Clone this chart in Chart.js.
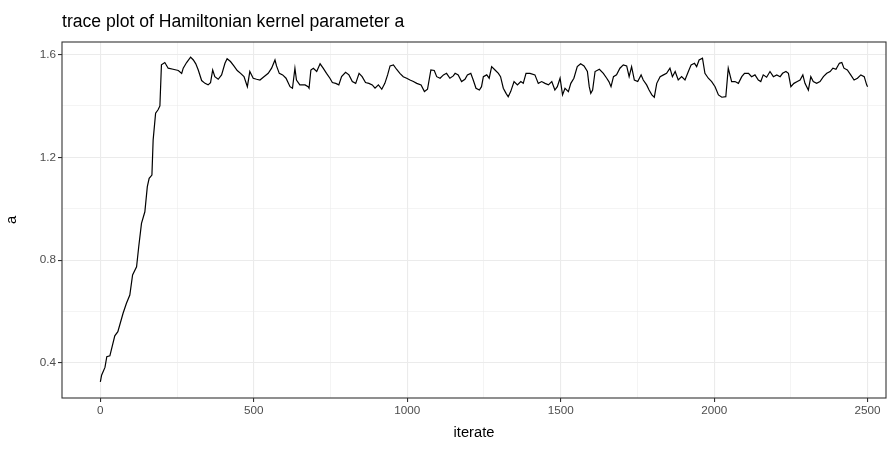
<!DOCTYPE html>
<html>
<head>
<meta charset="utf-8">
<script src="https://cdn.jsdelivr.net/npm/chart.js@4.4.1/dist/chart.umd.min.js"></script>
<style>
  html, body { margin: 0; padding: 0; background: #fff; }
  canvas { display: block; }
</style>
</head>
<body>
<canvas id="traceChart" width="896" height="450"></canvas>
<script>
const titleText = 'trace plot of Hamiltonian kernel parameter a'

// values
const iterate = [
	0, 4, 15, 21, 31, 47, 57, 74, 85, 96, 105, 118, 125, 134, 145, 153, 159, 168, 172, 180,
	188, 194, 199, 210, 221, 237, 254, 265, 270, 281, 294, 303, 311, 319, 330, 341, 351, 359, 366, 373,
	384, 395, 406, 413, 424, 435, 446, 457, 468, 479, 487, 498, 509, 520, 531, 547, 558, 569, 574, 583,
	594, 605, 618, 626, 634, 639, 650, 667, 677, 680, 686, 694, 705, 716, 726, 737, 748, 756, 767, 777,
	786, 799, 810, 821, 832, 843, 853, 864, 875, 886, 895, 906, 917, 927, 936, 944, 955, 965, 976, 987,
	998, 1009, 1020, 1031, 1045, 1056, 1066, 1077, 1088, 1096, 1107, 1118, 1128, 1139, 1150, 1156, 1166, 1177, 1188, 1196,
	1207, 1215, 1224, 1235, 1242, 1248, 1259, 1267, 1275, 1286, 1297, 1304, 1313, 1322, 1329, 1337, 1348, 1359, 1370, 1378,
	1387, 1400, 1416, 1427, 1438, 1449, 1460, 1471, 1481, 1489, 1498, 1506, 1514, 1525, 1533, 1543, 1554, 1565, 1576, 1587,
	1593, 1598, 1604, 1612, 1626, 1639, 1650, 1657, 1664, 1672, 1682, 1693, 1704, 1715, 1723, 1731, 1740, 1751, 1762, 1769,
	1780, 1788, 1797, 1805, 1813, 1824, 1835, 1845, 1856, 1864, 1873, 1883, 1894, 1905, 1916, 1925, 1936, 1943, 1951, 1962,
	1970, 1981, 1992, 2003, 2014, 2025, 2038, 2046, 2057, 2068, 2079, 2090, 2099, 2112, 2122, 2133, 2144, 2152, 2160, 2171,
	2182, 2193, 2204, 2215, 2223, 2234, 2242, 2250, 2260, 2271, 2280, 2289, 2296, 2307, 2315, 2323, 2334, 2345, 2356, 2367,
	2378, 2387, 2397, 2408, 2416, 2423, 2434, 2445, 2456, 2467, 2478, 2489, 2497, 2500
]

const aValues = [
	0.326, 0.352, 0.382, 0.424, 0.427, 0.505, 0.521, 0.593, 0.632, 0.664, 0.742, 0.774, 0.852, 0.943, 0.988, 1.086, 1.118, 1.131, 1.268, 1.372,
	1.385, 1.400, 1.560, 1.569, 1.547, 1.543, 1.538, 1.527, 1.547, 1.569, 1.590, 1.579, 1.564, 1.540, 1.499, 1.488, 1.482, 1.491, 1.540, 1.514,
	1.504, 1.521, 1.566, 1.584, 1.573, 1.556, 1.538, 1.527, 1.514, 1.475, 1.534, 1.508, 1.504, 1.501, 1.512, 1.527, 1.547, 1.579, 1.556, 1.527,
	1.521, 1.508, 1.475, 1.469, 1.547, 1.501, 1.482, 1.482, 1.475, 1.469, 1.540, 1.547, 1.534, 1.564, 1.547, 1.527, 1.508, 1.491, 1.488, 1.482,
	1.514, 1.531, 1.521, 1.495, 1.488, 1.527, 1.514, 1.491, 1.488, 1.482, 1.469, 1.482, 1.465, 1.488, 1.521, 1.556, 1.560, 1.543, 1.527, 1.514,
	1.508, 1.501, 1.495, 1.488, 1.482, 1.456, 1.465, 1.540, 1.538, 1.514, 1.508, 1.521, 1.527, 1.508, 1.517, 1.527, 1.521, 1.495, 1.504, 1.521,
	1.527, 1.501, 1.469, 1.462, 1.475, 1.514, 1.521, 1.508, 1.553, 1.540, 1.527, 1.514, 1.469, 1.449, 1.436, 1.456, 1.495, 1.482, 1.495, 1.488,
	1.527, 1.527, 1.521, 1.488, 1.495, 1.488, 1.482, 1.495, 1.462, 1.475, 1.508, 1.443, 1.469, 1.456, 1.488, 1.508, 1.553, 1.564, 1.556, 1.534,
	1.475, 1.449, 1.462, 1.534, 1.543, 1.527, 1.508, 1.495, 1.475, 1.514, 1.521, 1.547, 1.560, 1.556, 1.514, 1.553, 1.501, 1.495, 1.521, 1.501,
	1.482, 1.462, 1.443, 1.434, 1.488, 1.514, 1.521, 1.527, 1.547, 1.514, 1.534, 1.501, 1.514, 1.501, 1.534, 1.560, 1.566, 1.553, 1.579, 1.586,
	1.527, 1.508, 1.495, 1.475, 1.443, 1.434, 1.436, 1.547, 1.495, 1.495, 1.488, 1.514, 1.527, 1.527, 1.514, 1.521, 1.501, 1.495, 1.521, 1.512,
	1.534, 1.514, 1.521, 1.514, 1.527, 1.534, 1.527, 1.475, 1.488, 1.495, 1.501, 1.521, 1.488, 1.462, 1.514, 1.495, 1.488, 1.495, 1.514, 1.527,
	1.534, 1.547, 1.543, 1.566, 1.569, 1.547, 1.540, 1.521, 1.501, 1.508, 1.521, 1.514, 1.482, 1.475
]

const xMajorTicks = [0, 500, 1000, 1500, 2000, 2500]
const xMinorTicks = [250, 750, 1250, 1750, 2250]
const yMajorTicks = [0.4, 0.8, 1.2, 1.6]
const yMinorTicks = [0.6, 1.0, 1.4]

const gridColour = '#EBEBEB'
const inkColour = '#333333'

function isMajor(list, value) {
	return list.some(v => Math.abs(v - value) < 1e-9)
}

function setTicks(values) {
	return scale => {
		scale.ticks = values.slice().sort((a, b) => a - b).map(v => ({ value: v }))
	}
}

// panel border and title, drawn like ggplot's theme_bw
const panelFrame = {
	id: 'panelFrame',
	afterDraw(chart) {
		const { ctx, chartArea } = chart
		ctx.save()
		ctx.strokeStyle = inkColour
		ctx.lineWidth = 1.1
		ctx.strokeRect(chartArea.left, chartArea.top, chartArea.right - chartArea.left, chartArea.bottom - chartArea.top)
		ctx.fillStyle = '#000000'
		ctx.font = '17.6px "Liberation Sans", Arial, sans-serif'
		ctx.textAlign = 'left'
		ctx.textBaseline = 'alphabetic'
		ctx.fillText(titleText, chartArea.left, 27)
		ctx.restore()
	}
}

const traceChart = new Chart(document.getElementById('traceChart'), {
	type: 'line',
	data: {
		datasets: [{
			data: iterate.map((it, i) => ({ x: it, y: aValues[i] })),
			borderColor: '#000000',
			borderWidth: 1.2,
			pointRadius: 0,
			tension: 0,
			fill: false,
		}]
	},
	options: {
		responsive: false,
		animation: false,
		devicePixelRatio: 1,
		layout: { padding: { top: 42, right: 10, left: 0, bottom: 0 } },
		plugins: {
			legend: { display: false },
			tooltip: { enabled: false },
		},
		scales: {
			x: {
				type: 'linear',
				min: -125,
				max: 2560,
				afterBuildTicks: setTicks(xMajorTicks.concat(xMinorTicks)),
				afterFit: scale => { scale.height = 52 },
				border: { display: false },
				grid: {
					color: gridColour,
					lineWidth: ctx => isMajor(xMajorTicks, ctx.tick.value) ? 1.1 : 0.55,
					tickColor: ctx => isMajor(xMajorTicks, ctx.tick.value) ? inkColour : 'rgba(0,0,0,0)',
					tickLength: 4,
					tickWidth: 1.1,
				},
				ticks: {
					autoSkip: false,
					maxRotation: 0,
					padding: 2,
					color: '#4D4D4D',
					font: { family: '"Liberation Sans", Arial, sans-serif', size: 11.7 },
					callback: value => isMajor(xMajorTicks, value) ? String(value) : '',
				},
				title: {
					display: true,
					text: 'iterate',
					color: '#000000',
					font: { family: '"Liberation Sans", Arial, sans-serif', size: 14.7 },
					padding: { top: 0, bottom: 8 },
				}
			},
			y: {
				type: 'linear',
				min: 0.263,
				max: 1.649,
				afterBuildTicks: setTicks(yMajorTicks.concat(yMinorTicks)),
				afterFit: scale => { scale.width = 62 },
				border: { display: false },
				grid: {
					color: gridColour,
					lineWidth: ctx => isMajor(yMajorTicks, ctx.tick.value) ? 1.1 : 0.55,
					tickColor: ctx => isMajor(yMajorTicks, ctx.tick.value) ? inkColour : 'rgba(0,0,0,0)',
					tickLength: 4,
					tickWidth: 1.1,
				},
				ticks: {
					autoSkip: false,
					padding: 2,
					color: '#4D4D4D',
					font: { family: '"Liberation Sans", Arial, sans-serif', size: 11.7 },
					callback: value => isMajor(yMajorTicks, value) ? value.toFixed(1) : '',
				},
				title: {
					display: true,
					text: 'a',
					color: '#000000',
					font: { family: '"Liberation Sans", Arial, sans-serif', size: 14.7 },
					padding: { top: 3, bottom: 0 },
				}
			}
		}
	},
	plugins: [panelFrame]
})
</script>
</body>
</html>
